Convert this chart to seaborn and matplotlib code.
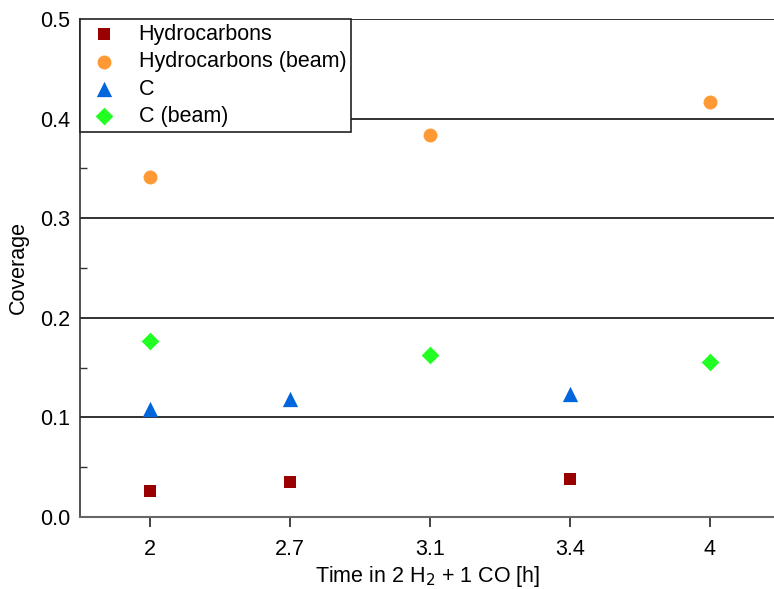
import matplotlib
matplotlib.use("Agg")
import matplotlib.pyplot as plt
import seaborn as sns
import pandas as pd
from matplotlib.ticker import MultipleLocator, FormatStrFormatter

time_labels = ["2", "2.7", "3.1", "3.4", "4"]

hc_time = ["2", "2.7", "3.4"]
hc_cov = [0.026, 0.035, 0.038]

hc_beam_time = ["2", "3.1", "4"]
hc_beam_cov = [0.341, 0.384, 0.417]

c_time = ["2", "2.7", "3.4"]
c_cov = [0.108, 0.118, 0.123]

c_beam_time = ["2", "3.1", "4"]
c_beam_cov = [0.177, 0.163, 0.156]

sns.set_style("white")
plt.rcParams["font.family"] = ["Liberation Sans", "DejaVu Sans"]
plt.rcParams["text.color"] = "black"
plt.rcParams["axes.labelcolor"] = "black"
plt.rcParams["xtick.color"] = "black"
plt.rcParams["ytick.color"] = "black"

FS = 15.5

fig = plt.figure(figsize=(7.74, 5.89), dpi=100)
ax = fig.add_axes([80 / 774, 72 / 589, 1 - 80 / 774 + 0.002, (517 - 19) / 589])

series = [
    ("Hydrocarbons", hc_time, hc_cov, "s", "#990000", 9),
    ("Hydrocarbons (beam)", hc_beam_time, hc_beam_cov, "o", "#FF9933", 10),
    ("C", c_time, c_cov, "^", "#0066DD", 11),
    ("C (beam)", c_beam_time, c_beam_cov, "D", "#22FF22", 9),
]

for name, xs, ys, mk, col, sz in series:
    df = pd.DataFrame({"time": xs, "coverage": ys})
    sns.stripplot(data=df, x="time", y="coverage", order=time_labels,
                  jitter=False, marker=mk, color=col, size=sz,
                  linewidth=0, ax=ax, label=name, zorder=3)

ax.set_xlim(-0.5, 4.47)
ax.set_ylim(0, 0.5)
ax.yaxis.set_major_locator(MultipleLocator(0.1))
ax.yaxis.set_minor_locator(MultipleLocator(0.05))
ax.yaxis.set_major_formatter(FormatStrFormatter("%.1f"))
ax.grid(axis="y", color="#222222", linewidth=1.3, zorder=1)
ax.set_axisbelow(True)

for side in ["top", "right"]:
    ax.spines[side].set_visible(False)
ax.spines["left"].set_color("#333333")
ax.spines["bottom"].set_color("#666666")
ax.spines["left"].set_linewidth(1.2)
ax.spines["bottom"].set_linewidth(1.5)

ax.tick_params(axis="y", which="major", length=0, labelsize=FS, pad=7)
ax.tick_params(axis="y", which="minor", left=True, direction="in", length=5,
               width=1, color="#333333")
ax.tick_params(axis="x", which="major", bottom=True, direction="out",
               length=7, width=1.2, color="#222222", labelsize=FS, pad=9)

ax.set_xlabel(r"Time in 2 H$_2$ + 1 CO [h]", fontsize=FS, labelpad=3)
ax.set_ylabel("Coverage", fontsize=FS, labelpad=8)

handles, labels = ax.get_legend_handles_labels()
seen = {}
for h, l in zip(handles, labels):
    if l not in seen:
        seen[l] = h
leg = ax.legend(list(seen.values()), list(seen.keys()), loc="upper left",
                bbox_to_anchor=(0, 1), fontsize=FS, frameon=True,
                fancybox=False, edgecolor="#222222", framealpha=1,
                borderaxespad=0, handletextpad=0.7, labelspacing=0.3,
                borderpad=0.22, handlelength=1.8)
leg.get_frame().set_linewidth(1.2)

fig.savefig("out.png", dpi=100)
